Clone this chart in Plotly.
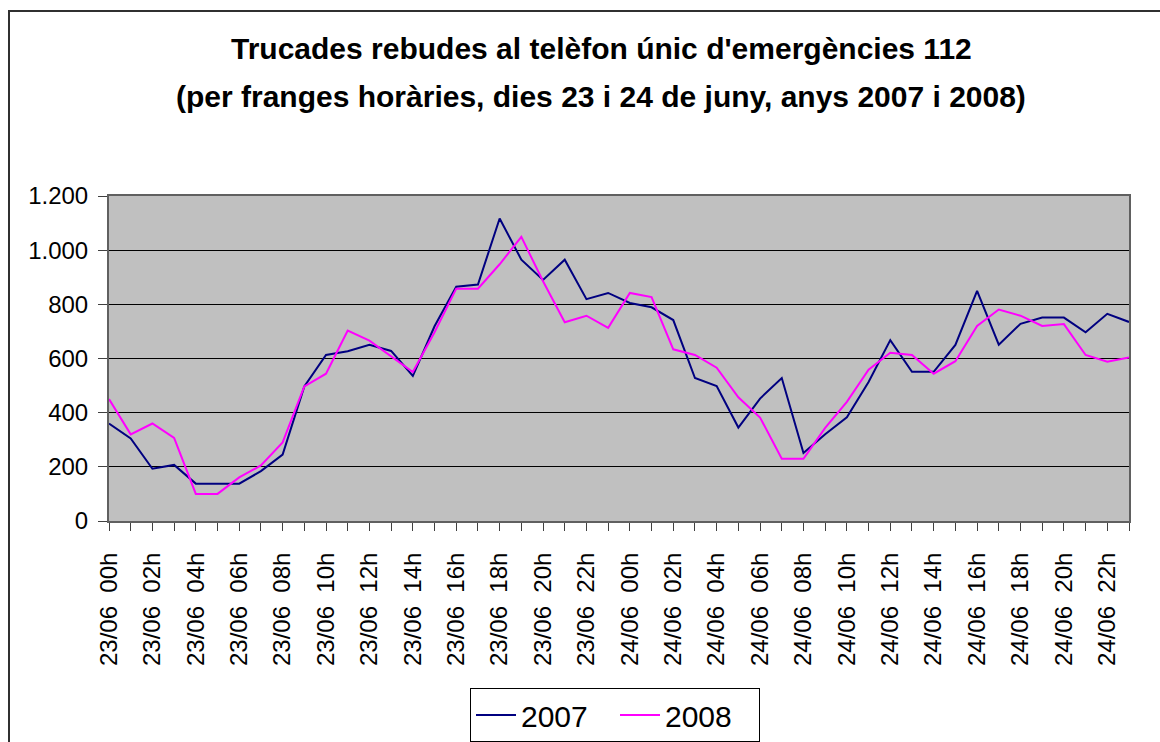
import plotly.graph_objects as go

# ---- data ----
hours = list(range(48))
tick_positions = list(range(0, 48, 2))
tick_labels = [
    "23/06\u00a0\u00a000h", "23/06\u00a0\u00a002h", "23/06\u00a0\u00a004h", "23/06\u00a0\u00a006h",
    "23/06\u00a0\u00a008h", "23/06\u00a0\u00a010h", "23/06\u00a0\u00a012h", "23/06\u00a0\u00a014h",
    "23/06\u00a0\u00a016h", "23/06\u00a0\u00a018h", "23/06\u00a0\u00a020h", "23/06\u00a0\u00a022h",
    "24/06\u00a0\u00a000h", "24/06\u00a0\u00a002h", "24/06\u00a0\u00a004h", "24/06\u00a0\u00a006h",
    "24/06\u00a0\u00a008h", "24/06\u00a0\u00a010h", "24/06\u00a0\u00a012h", "24/06\u00a0\u00a014h",
    "24/06\u00a0\u00a016h", "24/06\u00a0\u00a018h", "24/06\u00a0\u00a020h", "24/06\u00a0\u00a022h",
]
calls_2007 = [360, 305, 193, 207, 138, 138, 138, 184, 245, 497, 613, 627, 651, 628, 536, 719,
              865, 873, 1117, 965, 890, 965, 819, 842, 805, 789, 742, 528, 498, 345, 452, 528,
              251, 320, 383, 513, 668, 551, 551, 650, 850, 651, 728, 751, 751, 697, 765, 735]
calls_2008 = [450, 320, 360, 307, 100, 100, 161, 205, 290, 497, 544, 703, 666, 608, 550, 697,
              858, 858, 948, 1049, 885, 734, 758, 713, 842, 827, 634, 613, 566, 457, 382, 230,
              230, 344, 440, 559, 621, 613, 544, 590, 720, 781, 758, 720, 727, 613, 588, 604]
title_line1 = "Trucades rebudes al telèfon únic d'emergències 112"
title_line2 = "(per franges horàries, dies 23 i 24 de juny, anys 2007 i 2008)"

FONT = "Liberation Sans, Arial, sans-serif"

fig = go.Figure()
fig.add_trace(go.Scatter(x=hours, y=calls_2007, mode="lines", name="2007",
                         line=dict(color="#000080", width=2)))
fig.add_trace(go.Scatter(x=hours, y=calls_2008, mode="lines", name="2008",
                         line=dict(color="#FF00FF", width=2)))

W, H = 1160, 742
ml, mr, mt, mb = 109, 31, 196, 221
pw = W - ml - mr
ph = H - mt - mb

def px_x(X):
    return (X - ml) / pw

def px_y(Y):
    return (H - mb - Y) / ph

fig.update_layout(
    width=W, height=H,
    margin=dict(l=ml, r=mr, t=mt, b=mb, pad=0, autoexpand=False),
    paper_bgcolor="white",
    plot_bgcolor="#C0C0C0",
    separators=",.",
    font=dict(family=FONT, size=24, color="black"),
    showlegend=True,
    legend=dict(
        orientation="h",
        xref="container", yref="container",
        x=470 / W, xanchor="left",
        y=(H - 688) / H, yanchor="top",
        bordercolor="black", borderwidth=1,
        font=dict(family=FONT, size=30, color="black"),
        bgcolor="white",
        entrywidth=89,
        itemwidth=40,
    ),
    xaxis=dict(
        range=[0, 47],
        automargin=False,
        tickmode="array",
        tickvals=tick_positions,
        ticktext=tick_labels,
        tickangle=-90,
        ticks="outside", ticklen=8, tickcolor="#404040", tickwidth=1,
        minor=dict(dtick=1, tick0=0, ticks="outside", ticklen=8, tickcolor="#404040", tickwidth=1),
        showgrid=False, zeroline=False,
        showline=True, linecolor="#606060", linewidth=2, mirror=True,
        tickfont=dict(family=FONT, size=24, color="black"),
        ticklabelstandoff=12,
    ),
    yaxis=dict(
        range=[0, 1200],
        automargin=False,
        dtick=200,
        tickformat=",d",
        ticks="outside", ticklen=9, tickcolor="#404040", tickwidth=1,
        showgrid=True, gridcolor="black", gridwidth=1,
        zeroline=False,
        showline=True, linecolor="#606060", linewidth=2, mirror=True,
        tickfont=dict(family=FONT, size=24, color="black"),
        ticklabelstandoff=5,
    ),
    shapes=[
        dict(type="rect", xref="paper", yref="paper",
             x0=px_x(9), x1=px_x(1175), y0=px_y(760), y1=px_y(11),
             line=dict(color="#303030", width=2), fillcolor="rgba(0,0,0,0)", layer="below"),
    ],
    annotations=[
        dict(text=title_line1, xref="paper", yref="paper", x=px_x(601), y=px_y(48),
             xanchor="center", yanchor="middle", showarrow=False,
             font=dict(family=FONT, size=30, color="black", weight="bold")),
        dict(text=title_line2, xref="paper", yref="paper", x=px_x(601), y=px_y(96),
             xanchor="center", yanchor="middle", showarrow=False,
             font=dict(family=FONT, size=30, color="black", weight="bold")),
    ],
)

fig.write_html("out.html", config={"displayModeBar": False},
               post_script="document.body.style.margin='0';document.body.style.overflow='hidden';")
